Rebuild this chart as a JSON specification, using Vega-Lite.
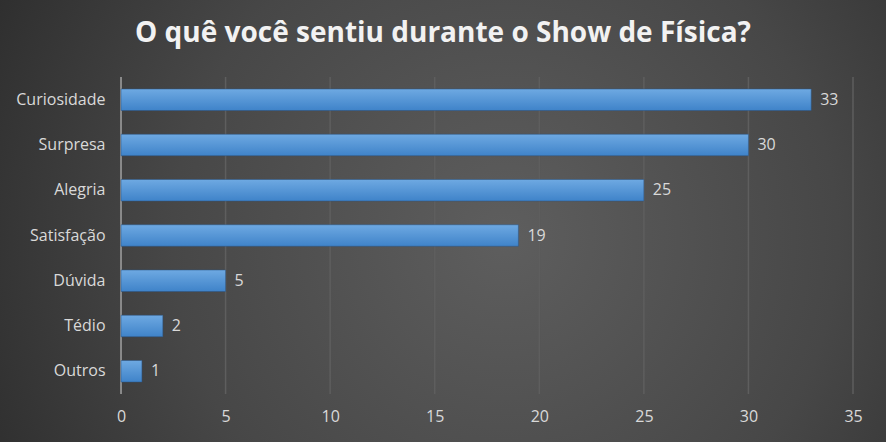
{
  "$schema": "https://vega.github.io/schema/vega-lite/v6.json",
  "width": 886,
  "height": 442,
  "padding": 0,
  "autosize": {"type": "none"},
  "background": "#3a3a3a",
  "config": {
    "view": {
      "stroke": null,
      "fill": {
        "gradient": "radial",
        "x1": 0.57, "y1": 0.52, "r1": 0,
        "x2": 0.57, "y2": 0.52, "r2": 0.75,
        "stops": [
          {"offset": 0, "color": "#5e5e5e"},
          {"offset": 0.5, "color": "#474747"},
          {"offset": 1, "color": "#242424"}
        ]
      }
    },
    "font": "Open Sans"
  },
  "title": {
    "text": "O quê você sentiu durante o Show de Física?",
    "font": "Open Sans",
    "fontSize": 28,
    "fontWeight": "bold",
    "color": "#f2f2f2",
    "anchor": "middle",
    "offset": -70,
    "baseline": "alphabetic"
  },
  "datasets": {
    "bars": [
      {"sentimento": "Curiosidade", "n": 33},
      {"sentimento": "Surpresa", "n": 30},
      {"sentimento": "Alegria", "n": 25},
      {"sentimento": "Satisfação", "n": 19},
      {"sentimento": "Dúvida", "n": 5},
      {"sentimento": "Tédio", "n": 2},
      {"sentimento": "Outros", "n": 1}
    ],
    "grid": [
      {"g": 5}, {"g": 10}, {"g": 15}, {"g": 20}, {"g": 25}, {"g": 30}, {"g": 35}
    ],
    "base": [{"g": 0}]
  },
  "resolve": {"scale": {"y": "independent"}, "axis": {"y": "independent"}},
  "layer": [
    {
      "data": {"name": "grid"},
      "mark": {"type": "rule", "color": "#5e5e5e", "strokeWidth": 1.5},
      "encoding": {
        "x": {
          "field": "g", "type": "quantitative",
          "scale": {"domain": [-5.786, 36.577], "nice": false, "zero": false},
          "axis": {
            "values": [0, 5, 10, 15, 20, 25, 30, 35],
            "orient": "bottom",
            "offset": -40,
            "grid": false,
            "ticks": false,
            "domain": false,
            "labelPadding": 6,
            "labelFontSize": 16,
            "labelColor": "#d9d9d9",
            "labelFont": "Open Sans",
            "title": null
          }
        },
        "y": {"datum": 0, "type": "quantitative", "scale": {"domain": [-0.1514, 1.2429], "nice": false, "zero": false}, "axis": null},
        "y2": {"datum": 1}
      }
    },
    {
      "data": {"name": "base"},
      "mark": {"type": "rule", "color": "#8a8a8a", "strokeWidth": 2},
      "encoding": {
        "x": {"field": "g", "type": "quantitative"},
        "y": {"datum": 0, "type": "quantitative", "scale": {"domain": [-0.1514, 1.2429], "nice": false, "zero": false}, "axis": null},
        "y2": {"datum": 1}
      }
    },
    {
      "data": {"name": "bars"},
      "layer": [
        {
          "mark": {
            "type": "bar",
            "stroke": "#2a5585",
            "strokeWidth": 0.5,
            "color": {
              "gradient": "linear",
              "x1": 0, "y1": 0, "x2": 0, "y2": 1,
              "stops": [
                {"offset": 0, "color": "#6ea9e2"},
                {"offset": 1, "color": "#3f83c9"}
              ]
            }
          },
          "encoding": {
            "x": {"field": "n", "type": "quantitative"},
            "y": {
              "field": "sentimento", "type": "nominal",
              "scale": {
                "domain": ["_top", "Curiosidade", "Surpresa", "Alegria", "Satisfação", "Dúvida", "Tédio", "Outros", "_bot"],
                "paddingInner": 0.525, "paddingOuter": 0.6465, "align": 0.748
              },
              "axis": {
                "orient": "left",
                "offset": -121,
                "ticks": false,
                "domain": false,
                "grid": false,
                "labelPadding": 16,
                "labelFontSize": 16,
                "labelColor": "#d9d9d9",
                "labelFont": "Open Sans",
                "labelExpr": "indexof(datum.value, '_') == 0 ? '' : datum.value",
                "title": null
              }
            }
          }
        },
        {
          "mark": {"type": "text", "align": "left", "baseline": "middle", "dx": 9, "fontSize": 16, "color": "#d9d9d9", "font": "Open Sans"},
          "encoding": {
            "x": {"field": "n", "type": "quantitative"},
            "y": {"field": "sentimento", "type": "nominal"},
            "text": {"field": "n", "type": "quantitative"}
          }
        }
      ]
    }
  ]
}
